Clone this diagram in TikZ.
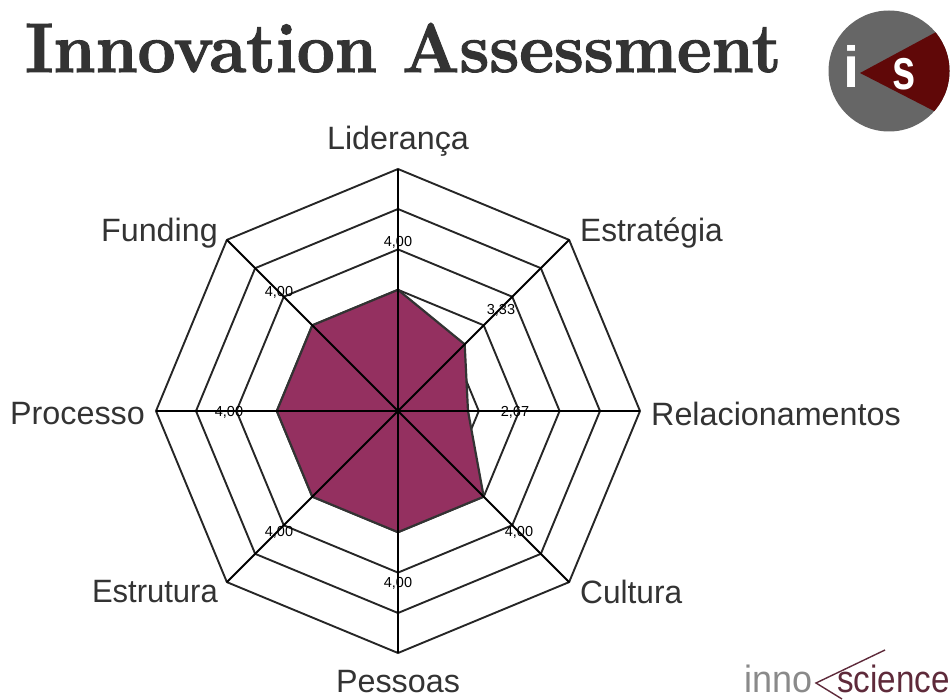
\documentclass[tikz,border=0pt]{standalone}
\usetikzlibrary{calc}
\usepackage{fontspec}
\setmainfont{Liberation Sans}
\newfontfamily\titlefont[BoldFeatures={FakeBold=1.6}]{Latin Modern Roman}
\definecolor{plum}{HTML}{943060}
\definecolor{ink}{HTML}{333333}
\definecolor{logogray}{HTML}{666666}
\definecolor{logored}{HTML}{600808}
\definecolor{innogray}{HTML}{8A8A8A}
\definecolor{scimaroon}{HTML}{5E2A3A}
\tikzset{
  x=1pt,y=-1pt,
  ring/.style={draw=black!85,line width=1.9pt,line join=miter},
  spoke/.style={draw=black,line width=1.9pt},
  datafill/.style={fill=plum,draw=black!80,line width=2.2pt,line join=round},
  axislabel/.style={font=\fontsize{32.3}{32.3}\selectfont,text=ink,inner sep=0pt},
  vallabel/.style={font=\fontsize{14.5}{14.5}\selectfont,text=black,inner sep=0pt},
}
\begin{document}
\begin{tikzpicture}
\useasboundingbox (0,0) rectangle (952,700);
\coordinate (c) at (398,411);
% rings
\foreach \r in {40.4,80.8,121.2,161.6,202,242}{
  \draw[ring] ($(c)+(90:\r pt)$) -- ($(c)+(45:\r pt)$) -- ($(c)+(0:\r pt)$) -- ($(c)+(-45:\r pt)$) -- ($(c)+(-90:\r pt)$) -- ($(c)+(-135:\r pt)$) -- ($(c)+(180:\r pt)$) -- ($(c)+(135:\r pt)$) -- cycle;
}
% data polygon
\coordinate (d1) at ($(c)+(90:121.2pt)$);
\coordinate (d2) at ($(c)+(45:94.3pt)$);
\coordinate (d3) at ($(c)+(0:70pt)$);
\coordinate (d4) at ($(c)+(-45:121.2pt)$);
\coordinate (d5) at ($(c)+(-90:121.2pt)$);
\coordinate (d6) at ($(c)+(-135:121.2pt)$);
\coordinate (d7) at ($(c)+(180:121.2pt)$);
\coordinate (d8) at ($(c)+(135:121.2pt)$);
\draw[datafill] (d1) -- (d2) -- (d3) -- (d4) -- (d5) -- (d6) -- (d7) -- (d8) -- cycle;
% spokes
\foreach \a in {0,45,...,315}{
  \draw[spoke] (c) -- ($(c)+(\a:242pt)$);
}
\fill[black] (c) circle (2.5pt);
% axis labels
\node[axislabel,anchor=center] (lid) at (398,141) {Liderança};
\node[axislabel,anchor=west,xscale=0.98] (est) at (580,233) {Estratégia};
\node[axislabel,anchor=west] (rel) at (651,414) {Relacionamentos};
\node[axislabel,anchor=west,xscale=0.98] (cul) at (580,592) {Cultura};
\node[axislabel,anchor=center] (pes) at (398,682) {Pessoas};
\node[axislabel,anchor=east,xscale=0.96] (etr) at (218,592) {Estrutura};
\node[axislabel,anchor=east] (pro) at (145,414) {Processo};
\node[axislabel,anchor=east] (fun) at (218,233) {Funding};
% value labels
\node[vallabel] (v1) at (398,242) {4,00};
\node[vallabel] (v2) at (501,310) {3,33};
\node[vallabel] (v3) at (515,412) {2,67};
\node[vallabel] (v4) at (519,532) {4,00};
\node[vallabel] (v5) at (398,583) {4,00};
\node[vallabel] (v6) at (279,532) {4,00};
\node[vallabel] (v7) at (229,412) {4,00};
\node[vallabel] (v8) at (279,292) {4,00};
% title
\node[anchor=base west,inner sep=0pt,text=ink,xscale=0.963] (title) at (25,72) {\titlefont\bfseries\fontsize{70}{70}\selectfont Innovation Assessment};
% is logo
\fill[logogray] (889,71) circle (60.5);
\begin{scope}
  \clip (889,71) circle (60.5);
  \fill[logored] (860,73) -- (938,31) -- (960,31) -- (960,112) -- (934,111) -- cycle;
\end{scope}
\node[anchor=base,inner sep=0pt,text=white,font=\bfseries\fontsize{58}{58}\selectfont] (logoi) at (852,88) {i};
\node[anchor=base,inner sep=0pt,text=white,xscale=0.72,font=\bfseries\fontsize{58}{58}\selectfont] (logos) at (904,90) {s};
% innoscience logo
\node[anchor=base west,inner sep=0pt,text=innogray,xscale=0.947,font=\fontsize{38}{38}\selectfont] (inno) at (744,692) {inno};
\node[anchor=base west,inner sep=0pt,text=scimaroon,xscale=0.874,font=\fontsize{38}{38}\selectfont] (sci) at (837,692) {science};
\coordinate (apex) at (816,683);
\draw[scimaroon,line width=1.4pt] (885,650) -- (apex) -- (842,699);
\end{tikzpicture}
\end{document}
